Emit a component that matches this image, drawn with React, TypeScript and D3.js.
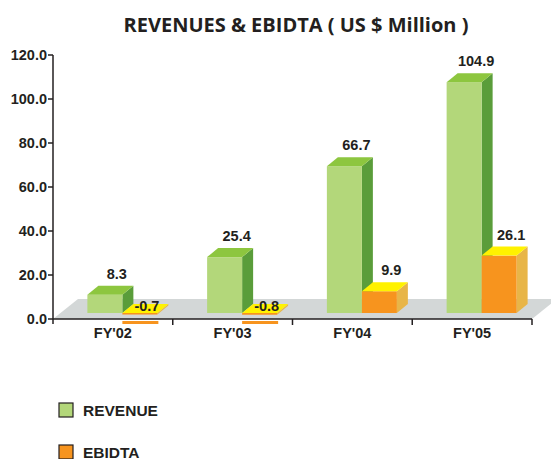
import React from 'react'
import * as d3 from 'd3'

// chart data
const categories = ["FY'02", "FY'03", "FY'04", "FY'05"]
const revenue = [8.3, 25.4, 66.7, 104.9]
const ebidta = [-0.7, -0.8, 9.9, 26.1]
const yTicks = [0, 20, 40, 60, 80, 100, 120]

const W = 551
const H = 459
const font = '"Liberation Sans", Arial, sans-serif'

// 3d look
const floorDepth = { dx: 25, dy: -20 }
const barShift = { dx: 9.5, dy: -6 }
const barDepth = { dx: 11, dy: -9 }
const barW = 35

const series = [
  { name: 'REVENUE', values: revenue, front: '#b3d77a', top: '#8dc63f', side: '#5a9d3a' },
  { name: 'EBIDTA', values: ebidta, front: '#f7941e', top: '#fff200', side: '#e8b548' },
]

export default function App() {
  const x = d3.scaleBand<string>().domain(categories).range([53, 532]).padding(0)
  const y = d3.scaleLinear().domain([0, 120]).range([319, 55])
  const y0 = y(0)

  const pts = (p: number[][]) => p.map(d => d.join(',')).join(' ')

  const floor = pts([
    [53, y0],
    [532, y0],
    [532 + floorDepth.dx, y0 + floorDepth.dy],
    [53 + floorDepth.dx, y0 + floorDepth.dy],
  ])

  return (
    <svg width={W} height={H} style={{ position: 'absolute', left: 0, top: 0, background: '#fff' }}>
      <text x={296} y={32} textAnchor="middle" fontFamily='"Open Sans", sans-serif' fontWeight="bold"
        fontSize={20} fill="#231f20">REVENUES &amp; EBIDTA ( US $ Million )</text>

      <polygon points={floor} fill="#d3d7d7" />

      {categories.map((c, i) => {
        const cx = x(c)! + x.bandwidth() / 2 + barShift.dx
        return series.map((s, si) => {
          const v = s.values[i]
          const bx = cx - barW + si * barW
          const base = y0 + barShift.dy
          const top = v >= 0 ? y(v) + barShift.dy : base
          const bottom = v >= 0 ? base : y(v) + barShift.dy
          const { dx, dy } = barDepth
          return (
            <g key={c + s.name}>
              {v < 0 && (
                <rect x={bx} y={y0 + 2} width={barW + 1} height={3} fill={s.front} />
              )}
              <polygon points={pts([[bx + barW, top], [bx + barW + dx, top + dy], [bx + barW + dx, bottom + dy], [bx + barW, bottom]])}
                fill={s.side} />
              <rect x={bx} y={top} width={barW} height={Math.max(bottom - top, 1.5)} fill={s.front} />
              <polygon points={pts([[bx, top], [bx + barW, top], [bx + barW + dx, top + dy], [bx + dx, top + dy]])}
                fill={s.top} />
              <text x={bx + barW / 2 + (v >= 0 ? 12 : 7)} y={v >= 0 ? top - 16 : base - 2}
                textAnchor="middle" fontFamily={font} fontWeight="bold" fontSize={14.5} fill="#231f20">
                {v.toFixed(1)}
              </text>
            </g>
          )
        })
      })}

      {/* axes */}
      <line x1={53} x2={53} y1={y(120)} y2={y0 + 5} stroke="#231f20" strokeWidth={1.5} />
      <line x1={53} x2={532} y1={y0} y2={y0} stroke="#231f20" strokeWidth={1.5} />
      {yTicks.map(t => (
        <g key={t}>
          <line x1={48} x2={53} y1={y(t)} y2={y(t)} stroke="#231f20" strokeWidth={1.5} />
          <text x={47} y={y(t) + 5} textAnchor="end" fontFamily={font} fontWeight="bold" fontSize={14.5}
            fill="#231f20">{t.toFixed(1)}</text>
        </g>
      ))}
      {categories.map(c => (
        <g key={c}>
          <line x1={x(c)! + x.bandwidth()} x2={x(c)! + x.bandwidth()} y1={y0} y2={y0 + 6}
            stroke="#231f20" strokeWidth={1.5} />
          <text x={x(c)! + x.bandwidth() / 2} y={y0 + 19} textAnchor="middle" fontFamily={font}
            fontWeight="bold" fontSize={14.5} fill="#231f20">{c}</text>
        </g>
      ))}

      {/* legend */}
      {series.map((s, i) => (
        <g key={s.name} transform={`translate(59, ${403 + i * 42})`}>
          <rect x={0} y={0} width={14} height={14} fill={s.front} stroke="#231f20" strokeWidth={1.2} />
          <text x={24} y={13} fontFamily={font} fontWeight="bold" fontSize={15.5} fill="#231f20">{s.name}</text>
        </g>
      ))}
    </svg>
  )
}
